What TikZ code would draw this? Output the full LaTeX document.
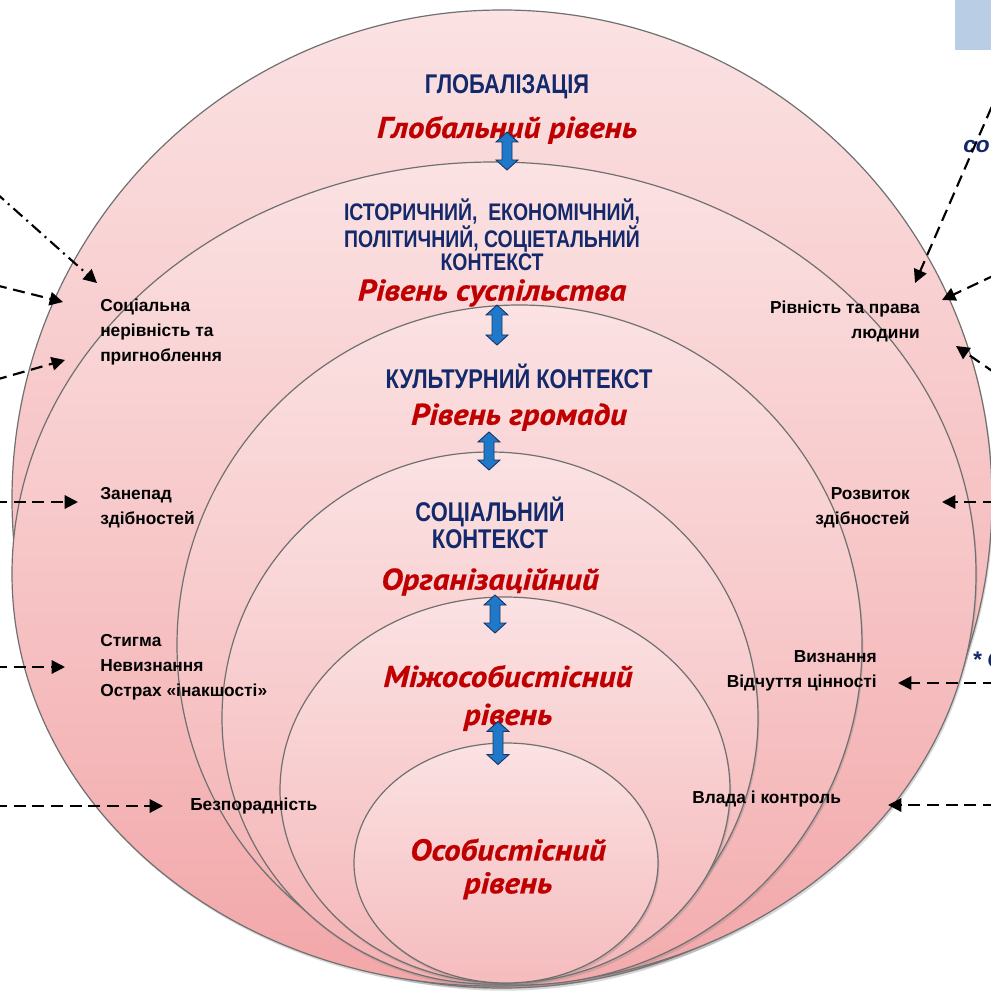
\documentclass[tikz,border=0pt]{standalone}
\usepackage{fontspec}
\setmainfont{Liberation Sans}
\newfontfamily\headfont[FakeStretch=0.81]{Liberation Sans}
\newfontfamily\redfont[FakeStretch=1.1, FakeBold=0.6]{PT Sans}
\usetikzlibrary{shapes.geometric,arrows.meta,shadows}

\definecolor{navy}{HTML}{13296B}
\definecolor{redtxt}{HTML}{C00000}
\definecolor{edgegray}{HTML}{707070}
\definecolor{pinkTop}{HTML}{FBE2E3}
\definecolor{pinkBot}{HTML}{F2A4A6}
\definecolor{arrowblue}{HTML}{1F78C8}
\definecolor{arrowedge}{HTML}{1A3768}
\definecolor{boxblue}{HTML}{B9CDE5}

\tikzset{
  ring/.style={ellipse, draw=edgegray, line width=0.9pt, inner sep=0pt,
    top color=pinkTop, bottom color=pinkBot!#1!pinkTop,
    drop shadow={opacity=0.3, shadow xshift=1pt, shadow yshift=-2pt}},
  headtxt/.style={font=\headfont\bfseries\fontsize{20.3}{17.6}\selectfont, text=navy, align=center, inner sep=0pt},
  leveltxt/.style={font=\redfont\bfseries\itshape\fontsize{22.5}{26}\selectfont, text=redtxt, align=center, inner sep=0pt},
  labl/.style={font=\bfseries\fontsize{13}{18.75}\selectfont, text=black, inner sep=0pt},
  sidetxt/.style={font=\bfseries\itshape\fontsize{17}{20}\selectfont, text=navy, inner sep=0pt, anchor=west},
  barrow/.style={fill=arrowblue, draw=arrowedge, line width=0.7pt, line join=miter},
  conn/.style={draw=black, line width=1.6pt, dash pattern=on 9pt off 5pt, -{Triangle[length=10pt,width=10pt]}},
  conndd/.style={conn, dash pattern=on 9pt off 4pt on 1.5pt off 4pt}
}

\newcommand\vbiarrow[3]{%
  \coordinate (#1) at (#2);
  \draw[barrow, shift={(#1)}] (0,{-#3}) -- (11,{-#3+10}) -- (5,{-#3+10}) -- (5,{#3-10}) -- (11,{#3-10})
     -- (0,{#3}) -- (-11,{#3-10}) -- (-5,{#3-10}) -- (-5,{-#3+10}) -- (-11,{-#3+10}) -- cycle;
}

\begin{document}
\begin{tikzpicture}[x=0.75pt, y=-0.75pt]
\useasboundingbox (0,0) rectangle (990,994);
\fill[white] (0,0) rectangle (990,994);

% top right box
\fill[boxblue] (955,0) rectangle (995,50);

% ellipses
\node[ring=100, minimum width=735pt, minimum height=733.5pt] (e1) at (502,499) {};
\node[ring=96, minimum width=723pt, minimum height=618pt] (e2) at (494,574) {};
\node[ring=88, minimum width=513.75pt, minimum height=510pt] (e3) at (519.5,645) {};
\node[ring=80, minimum width=402pt, minimum height=399pt] (e4) at (490,718) {};
\node[ring=72, minimum width=337.5pt, minimum height=289.5pt] (e5) at (505,790) {};
\node[ring=62, minimum width=228pt, minimum height=180pt] (e6) at (506,863) {};

% headings
\node[headtxt] (glob) at (507,87) {ГЛОБАЛІЗАЦІЯ};
\node[headtxt, font=\headfont\bfseries\fontsize{18}{17.2}\selectfont] (hist) at (492,234.5) {ІСТОРИЧНИЙ,\ \ ЕКОНОМІЧНИЙ,\\ПОЛІТИЧНИЙ, СОЦІЕТАЛЬНИЙ\\КОНТЕКСТ};
\node[headtxt] (cult) at (519,376) {КУЛЬТУРНИЙ КОНТЕКСТ};
\node[headtxt, font=\headfont\bfseries\fontsize{20.3}{20.25}\selectfont] (soc) at (490,523) {СОЦІАЛЬНИЙ\\КОНТЕКСТ};

% level labels
\node[leveltxt] (lv1) at (507,130) {Глобальний рівень};
\node[leveltxt] (lv2) at (492,293) {Рівень суспільства};
\node[leveltxt] (lv3) at (519,417) {Рівень громади};
\node[leveltxt] (lv4) at (490,582) {Організаційний};
\node[leveltxt, font=\redfont\bfseries\itshape\fontsize{22.5}{28.5}\selectfont] (lv5) at (508,698) {Міжособистісний\\рівень};
\node[leveltxt, font=\redfont\bfseries\itshape\fontsize{22.5}{24.75}\selectfont] (lv6) at (508,869) {Особистісний\\рівень};

% blue double arrows
\vbiarrow{a1}{507,151}{19}
\vbiarrow{a2}{497,325}{20}
\vbiarrow{a3}{489,451}{19}
\vbiarrow{a4}{495,614}{19}
\vbiarrow{a5}{498,743}{21.5}

% left labels
\node[labl, anchor=west, align=left] (l1) at (100,332.5) {Соціальна\\нерівність та\\пригноблення};
\node[labl, anchor=west, align=left] (l2) at (100,507.5) {Занепад\\здібностей};
\node[labl, anchor=west, align=left] (l3) at (100,667.5) {Стигма\\Невизнання\\Острах «інакшості»};
\node[labl, anchor=west, align=left] (l4) at (190,806) {Безпорадність};

% right labels
\node[labl, anchor=east, align=right] (r1) at (920,321) {Рівність та права\\людини};
\node[labl, anchor=east, align=right] (r2) at (910,507.5) {Розвиток\\здібностей};
\node[labl, anchor=east, align=right] (r3) at (877,670.5) {Визнання\\Відчуття цінності};
\node[labl, anchor=west, align=left] (r4) at (692,799) {Влада і контроль};

% partial side texts
\node[sidetxt] (so) at (963,147) {со};
\node[sidetxt] (sc) at (972,660) {* С};

% connector end points
\coordinate (ls1) at (-5,192);  \coordinate (lt1) at (97,283);
\coordinate (ls2) at (-5,285);  \coordinate (lt2) at (63,302);
\coordinate (ls3) at (-5,380);  \coordinate (lt3) at (65,360);
\coordinate (ls4) at (-5,502);  \coordinate (lt4) at (78,502);
\coordinate (ls5) at (-5,667);  \coordinate (lt5) at (65,667);
\coordinate (ls6) at (-5,806);  \coordinate (lt6) at (163,806);
\coordinate (rs1) at (999,90);  \coordinate (rt1) at (915,283);
\coordinate (rs2) at (995,275); \coordinate (rt2) at (942,300);
\coordinate (rs3) at (995,373); \coordinate (rt3) at (956,346);
\coordinate (rs4) at (995,502); \coordinate (rt4) at (942,502);
\coordinate (rs5) at (995,683); \coordinate (rt5) at (898,683);
\coordinate (rs6) at (995,805); \coordinate (rt6) at (888,805);

% connectors
\draw[conndd] (ls1) -- (lt1);
\draw[conn] (ls2) -- (lt2);
\draw[conn] (ls3) -- (lt3);
\draw[conn] (ls4) -- (lt4);
\draw[conn] (ls5) -- (lt5);
\draw[conn] (ls6) -- (lt6);
\draw[conn] (rs1) -- (rt1);
\draw[conn] (rs2) -- (rt2);
\draw[conn] (rs3) -- (rt3);
\draw[conn] (rs4) -- (rt4);
\draw[conn] (rs5) -- (rt5);
\draw[conn] (rs6) -- (rt6);
\end{tikzpicture}
\end{document}
